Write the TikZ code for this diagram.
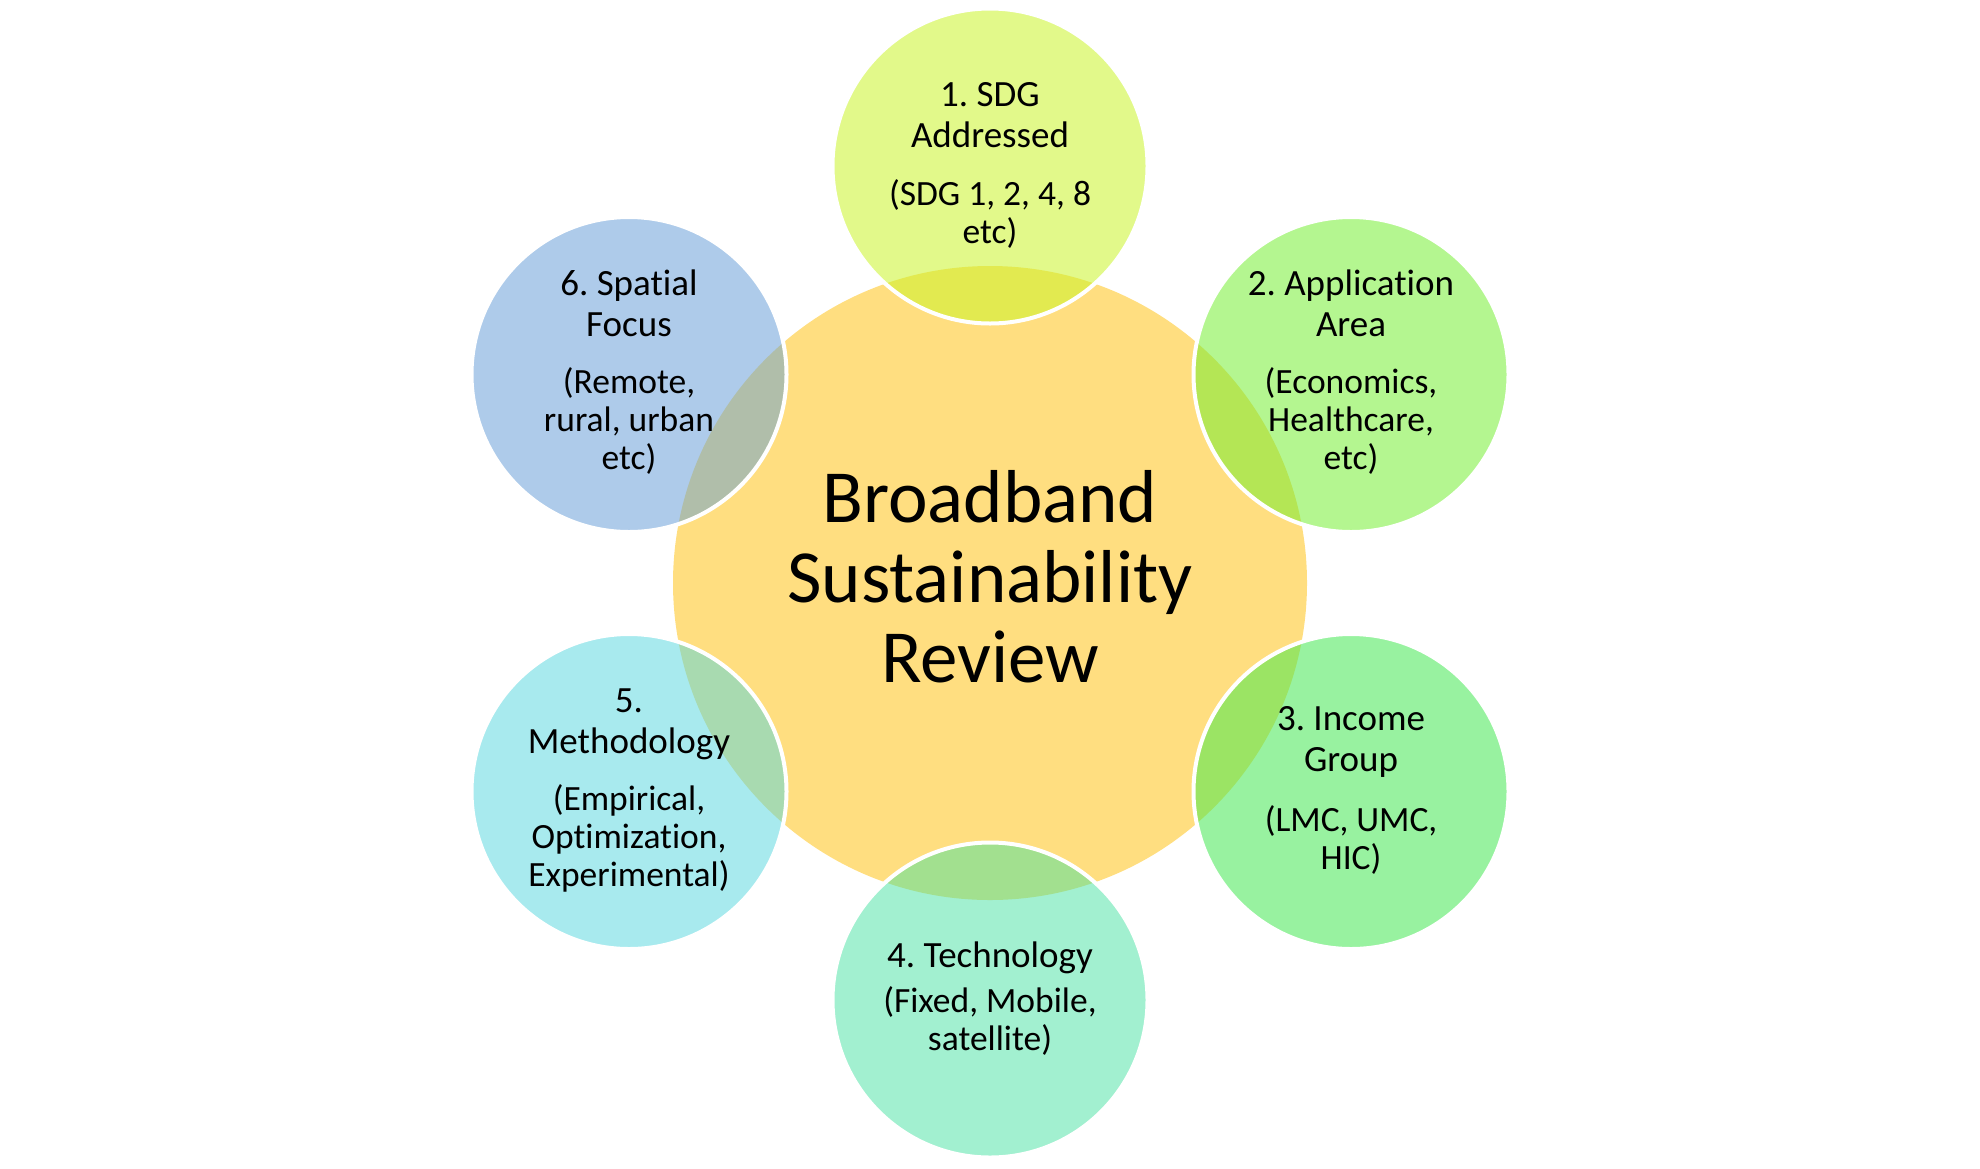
\documentclass[tikz,border=0pt]{standalone}
\usepackage{fontspec}
\setmainfont{Carlito}[Ligatures=NoCommon]
\frenchspacing
\definecolor{corange}{HTML}{FFDE80}
\definecolor{cA}{HTML}{E2F98A}\definecolor{oA}{HTML}{E2EA50}
\definecolor{cB}{HTML}{B4F690}\definecolor{oB}{HTML}{B4E655}
\definecolor{cC}{HTML}{98F2A0}\definecolor{oC}{HTML}{9BE464}
\definecolor{cD}{HTML}{A2F0D0}\definecolor{oD}{HTML}{A2E08F}
\definecolor{cE}{HTML}{A8EAEE}\definecolor{oE}{HTML}{A8DAB0}
\definecolor{cF}{HTML}{AECBEA}\definecolor{oF}{HTML}{B0BEAA}
\tikzset{
  hub/.style={circle, inner sep=0pt, minimum size=317pt, fill=corange},
  petal/.style={circle, inner sep=0pt, minimum size=157.5pt},
  rim/.style={draw=white, line width=2pt},
  ttl/.style={anchor=base, inner sep=0pt, font=\fontsize{18.5}{20.5}\selectfont},
  dsc/.style={anchor=base, inner sep=0pt, font=\fontsize{17.75}{19}\selectfont},
  hubtxt/.style={anchor=base, inner sep=0pt, font=\fontsize{37.5}{40}\selectfont}
}
\newcommand\mylines[1]{\begin{tabular}[t]{@{}c@{}}#1\end{tabular}}
\begin{document}
\begin{tikzpicture}[x=0.5pt,y=-0.5pt]
\useasboundingbox (0,0) rectangle (1980,1168);
\node[hub] (c0) at (990,583) {};
% petals
\foreach \n/\px/\py/\cl/\ol in {c1/990/166/cA/oA, c2/1351/374.5/cB/oB, c3/1351/791.5/cC/oC, c4/990/1000/cD/oD, c5/629/791.5/cE/oE, c6/629/374.5/cF/oF}{
  \node[petal, fill=\cl] (\n) at (\px,\py) {};
  \begin{scope}
    \clip (c0.center) circle (158.5pt);
    \fill[\ol] (\n.center) circle (78.75pt);
  \end{scope}
  \draw[rim] (\n.center) circle (78.75pt);
}
% hub text
\node[hubtxt] (h) at (990,522) {\mylines{Broadband\\Sustainability\\Review}};
% petal texts
\node[ttl] (t1) at (990,106) {\mylines{1. SDG\\Addressed}};
\node[dsc] (d1) at (990,205) {\mylines{(SDG 1, 2, 4, 8\\etc)}};
\node[ttl] (t2) at (1351,295) {\mylines{2. Application\\Area}};
\node[dsc] (d2) at (1351,393.5) {\mylines{(Economics,\\Healthcare,\\etc)}};
\node[ttl] (t3) at (1351,730.5) {\mylines{3. Income\\Group}};
\node[dsc] (d3) at (1351,831.5) {\mylines{(LMC, UMC,\\HIC)}};
\node[ttl] (t4) at (990,967) {\mylines{4. Technology}};
\node[dsc] (d4) at (990,1012) {\mylines{(Fixed, Mobile,\\satellite)}};
\node[ttl] (t5) at (629,712) {\mylines{5.\\Methodology}};
\node[dsc] (d5) at (629,810.5) {\mylines{(Empirical,\\Optimization,\\Experimental)}};
\node[ttl] (t6) at (629,295) {\mylines{6. Spatial\\Focus}};
\node[dsc] (d6) at (629,393.5) {\mylines{(Remote,\\rural, urban\\etc)}};
\end{tikzpicture}
\end{document}
